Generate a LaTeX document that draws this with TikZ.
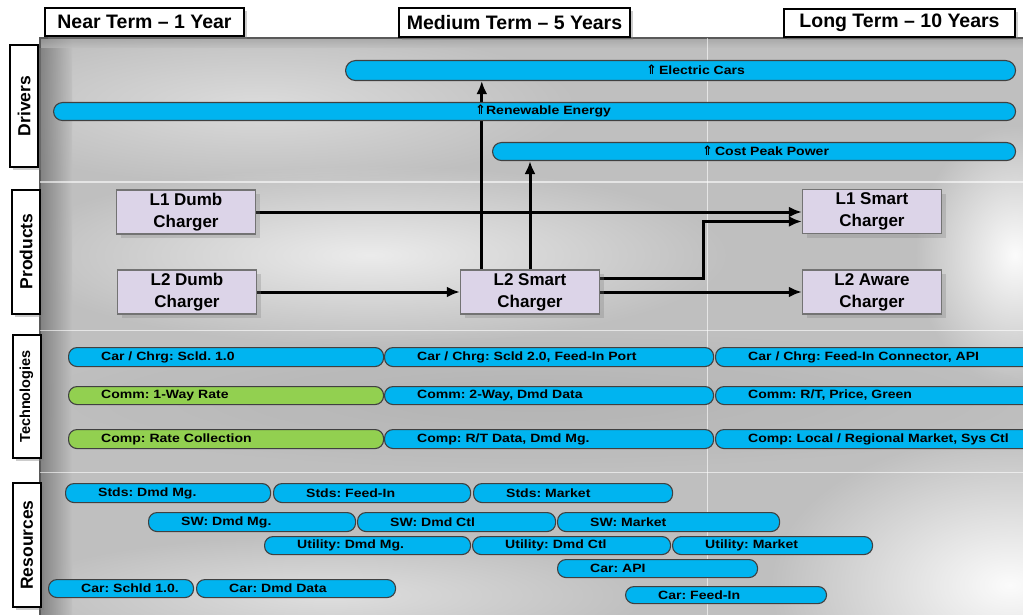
\documentclass[tikz,border=0pt]{standalone}
\usepackage{fontspec}
\setmainfont{Liberation Sans}
\newfontfamily\barfont[FakeStretch=1.17]{Liberation Sans}
\newfontfamily\symfont{DejaVu Sans}
\usetikzlibrary{arrows.meta,fadings,shadows,patterns.meta}
\pgfdeclarelayer{back}
\pgfdeclarelayer{mid}
\pgfsetlayers{back,mid,main}
\definecolor{barblue}{HTML}{00B4F0}
\definecolor{bargreen}{HTML}{92D050}
\definecolor{prodfill}{HTML}{DCD4E8}
\definecolor{panel}{HTML}{BFBFBF}
\tikzfading[name=fuzzy, inner color=transparent!0, outer color=transparent!100]
\newcommand\up{{\symfont\bfseries\fontsize{13}{13}\selectfont ⇑}}
\newcommand\seg[7]{%
  \node[segbox, fill=#7, minimum width={#3-#2}, minimum height={#5-#4}, anchor=north west] (#1) at (#2,#4) {};
  \node[seglabel, anchor=west] (#1t) at ([xshift=33pt]#1.west) {#6};}
\frenchspacing
\begin{document}
\begin{tikzpicture}[x=1pt,y=-1pt,
  header/.style={draw=black, line width=2pt, fill=white, inner sep=0pt,
    font=\bfseries\fontsize{19.5}{22}\selectfont,
    drop shadow={shadow xshift=3pt, shadow yshift=-3pt, opacity=0.4}},
  rowlab/.style={draw=black, line width=2pt, fill=white, inner sep=0pt, rotate=90,
    minimum height=28pt, font=\bfseries\fontsize{17.5}{20}\selectfont,
    drop shadow={shadow xshift=3pt, shadow yshift=-3pt, opacity=0.4}},
  prod/.style={draw=black!55, line width=1.4pt, fill=prodfill, inner sep=0pt,
    minimum width=139pt, minimum height=44pt, align=center,
    font=\bfseries\fontsize{17}{22}\selectfont,
    drop shadow={shadow xshift=4pt, shadow yshift=-4pt, opacity=0.3}},
  segbox/.style={draw=black!75, line width=1.1pt, rounded corners=8.5pt, inner sep=0pt},
  seglabel/.style={inner sep=0pt, font=\barfont\bfseries\fontsize{12}{14}\selectfont},
  arr/.style={line width=3pt, -{Latex[length=13pt,width=11pt]}}
]
\useasboundingbox (0,0) rectangle (1023,615);
\begin{pgfonlayer}{back}
\fill[white] (0,0) rectangle (1023,615);
\fill[panel] (40,38) rectangle (1023,615);
\fill[white, opacity=0.45, path fading=fuzzy] (260,105) ellipse [x radius=320pt, y radius=80pt];
\fill[white, opacity=0.7, path fading=fuzzy] (370,255) ellipse [x radius=360pt, y radius=90pt];
\fill[white, opacity=0.95, path fading=fuzzy] (1015,255) ellipse [x radius=100pt, y radius=130pt];
\fill[white, opacity=0.95, path fading=fuzzy] (1010,585) ellipse [x radius=240pt, y radius=150pt];
\fill[white, opacity=0.5, path fading=fuzzy] (330,595) ellipse [x radius=320pt, y radius=60pt];
\fill[black, opacity=0.06, path fading=fuzzy] (540,400) ellipse [x radius=520pt, y radius=70pt];
\shade[left color=black!55, right color=panel, opacity=0.8] (40,38) rectangle (72,615);
\shade[top color=black!40, bottom color=panel, opacity=0.6] (40,38) rectangle (1023,48);
\draw[black!65, line width=1.5pt] (40,615) -- (40,38) -- (1023,38);
\draw[white, opacity=0.6, line width=1pt] (40,182) -- (1023,182);
\draw[white, opacity=0.6, line width=1pt] (40,330) -- (1023,330);
\draw[white, opacity=0.6, line width=1pt] (40,472) -- (1023,472);
\draw[white, opacity=0.6, line width=1pt] (707,38) -- (707,615);
\end{pgfonlayer}

% headers
\node[header, minimum width=199pt, minimum height=28pt] (near) at (144.5,22) {Near Term -- 1 Year};
\node[header, minimum width=231pt, minimum height=29pt] (med) at (514.5,22.5) {Medium Term -- 5 Years};
\node[header, minimum width=231pt, minimum height=28pt] (long) at (899.5,23) {Long Term -- 10 Years};

% row labels
\node[rowlab, minimum width=122pt] (drv) at (24,106) {Drivers};
\node[rowlab, minimum width=124pt] (prd) at (26,251.5) {Products};
\node[rowlab, minimum width=123pt, font=\bfseries\fontsize{14.5}{16}\selectfont] (tec) at (26.5,396.5) {Technologies};
\node[rowlab, minimum width=124pt] (res) at (27,545) {Resources};

% drivers
\node[segbox, fill=barblue, rounded corners=10pt, minimum width=670pt, minimum height=20pt, anchor=north west] (ec) at (345,60) {};
\node[seglabel, anchor=west] (ect) at (646,70) {\up\,Electric Cars};
\node[segbox, fill=barblue, rounded corners=9pt, minimum width=962pt, minimum height=18pt, anchor=north west] (re) at (53,102) {};
\node[seglabel, anchor=west] (ret) at (475,111) {\up Renewable Energy};
\node[segbox, fill=barblue, rounded corners=9pt, minimum width=523pt, minimum height=18pt, anchor=north west] (cp) at (492,142) {};
\node[seglabel, anchor=west] (cpt) at (702,151) {\up\,Cost Peak Power};

% products
\node[prod] (l1d) at (186,212) {L1 Dumb\\Charger};
\node[prod] (l2d) at (187,292) {L2 Dumb\\Charger};
\node[prod] (l2s) at (530,292) {L2 Smart\\Charger};
\node[prod] (l1s) at (872,211.5) {L1 Smart\\Charger};
\node[prod] (l2a) at (872,292) {L2 Aware\\Charger};

% technologies
\seg{t11}{68}{383}{347}{366}{Car / Chrg: Scld. 1.0}{barblue}
\seg{t12}{384}{713}{347}{366}{Car / Chrg: Scld 2.0, Feed-In Port}{barblue}
\seg{t13}{715}{1040}{347}{366}{Car / Chrg: Feed-In Connector, API}{barblue}
\seg{t21}{68}{383}{386}{404}{Comm: 1-Way Rate}{bargreen}
\seg{t22}{384}{713}{386}{404}{Comm: 2-Way, Dmd Data}{barblue}
\seg{t23}{715}{1040}{386}{404}{Comm: R/T, Price, Green}{barblue}
\seg{t31}{68}{383}{429}{448}{Comp: Rate Collection}{bargreen}
\seg{t32}{384}{713}{429}{448}{Comp: R/T Data, Dmd Mg.}{barblue}
\seg{t33}{715}{1040}{429}{448}{Comp: Local / Regional Market, Sys Ctl}{barblue}

% resources
\seg{ra1}{65}{270}{483}{502}{Stds: Dmd Mg.}{barblue}
\seg{ra2}{273}{470}{483}{502}{Stds: Feed-In}{barblue}
\seg{ra3}{473}{672}{483}{502}{Stds: Market}{barblue}
\seg{rb1}{148}{355}{512}{531}{SW: Dmd Mg.}{barblue}
\seg{rb2}{357}{555}{512}{531}{SW: Dmd Ctl}{barblue}
\seg{rb3}{557}{779}{512}{531}{SW: Market}{barblue}
\seg{rc1}{264}{470}{536}{554}{Utility: Dmd Mg.}{barblue}
\seg{rc2}{472}{670}{536}{554}{Utility: Dmd Ctl}{barblue}
\seg{rc3}{672}{872}{536}{554}{Utility: Market}{barblue}
\seg{rd1}{557}{757}{559}{577}{Car: API}{barblue}
\seg{re1}{48}{193}{579}{597}{Car: Schld 1.0.}{barblue}
\seg{re2}{196}{395}{579}{597}{Car: Dmd Data}{barblue}
\seg{rf1}{625}{826}{586}{603}{Car: Feed-In}{barblue}

% connectors
\begin{pgfonlayer}{mid}
\draw[arr] ([xshift=22pt]l2s.north west) -- ([xshift=22pt]l2s.north west |- ec.south);
\draw[arr] (l2s.north) -- (l2s.north |- cp.south);
\draw[arr] (l1d.east) -- (l1d.east -| l1s.west);
\draw[arr] ([yshift=-9pt]l2s.north east) -- ++(103,0) |- ([yshift=-10pt]l1s.west);
\draw[arr] (l2d.east) -- (l2s.west);
\draw[arr] (l2s.east) -- (l2a.west);
\end{pgfonlayer}
\end{tikzpicture}
\end{document}
